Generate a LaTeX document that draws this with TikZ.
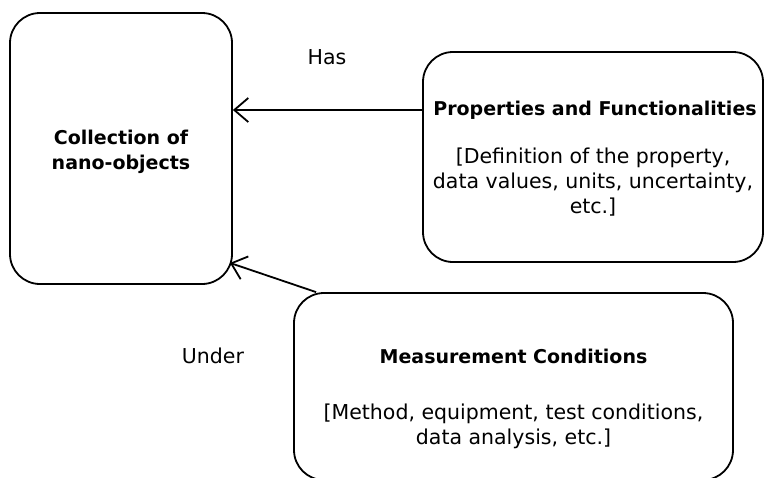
\documentclass[tikz,border=0pt]{standalone}
\usepackage{fontspec}
\setmainfont{DejaVu Sans}
\usetikzlibrary{arrows.meta}

\tikzset{
  box/.style 2 args={draw, line width=1.8pt, rounded corners=30pt,
    minimum width=#1, minimum height=#2, inner sep=0pt},
  boxtitle/.style={font=\bfseries\fontsize{19}{25}\selectfont, align=center},
  boxtext/.style={font=\fontsize{20.5}{25}\selectfont, align=center},
  conn/.style={line width=1.8pt, -{Straight Barb[length=14pt,width=24pt]}}
}

\begin{document}
\begin{tikzpicture}[x=1pt, y=-1pt]
\useasboundingbox (0,0) rectangle (765,477);
% boxes
\node[box={222pt}{271pt}] (coll) at (121,148.5) {};
\node[box={340pt}{210pt}] (props) at (593,157) {};
\node[box={439pt}{187pt}] (meas) at (513.5,386.5) {};
% texts in the boxes
\node[boxtitle] (colltitle) at (121,152) {Collection of\\nano-objects};
\node[boxtitle] (propstitle) at (595,110) {Properties and Functionalities};
\node[boxtext] (propstext) at (593,182) {[Definition of the property,\\data values, units, uncertainty,\\etc.]};
\node[boxtitle] (meastitle) at (513.5,356) {Measurement Conditions};
\node[boxtext] (meastext) at (513.5,426) {[Method, equipment, test conditions,\\data analysis, etc.]};
% connectors
\coordinate (hasfrom) at ([yshift=47pt]props.west);
\coordinate (underfrom) at ([xshift=23pt]meas.north west);
\coordinate (underto) at ([xshift=-3pt,yshift=22pt]coll.south east);
\draw[conn] (hasfrom) -- (coll.east |- hasfrom);
\draw[conn] (underfrom) -- (underto);
% connector labels
\node[boxtext] (haslabel) at (327,57) {Has};
\node[boxtext] (underlabel) at (213,356) {Under};
\end{tikzpicture}
\end{document}
